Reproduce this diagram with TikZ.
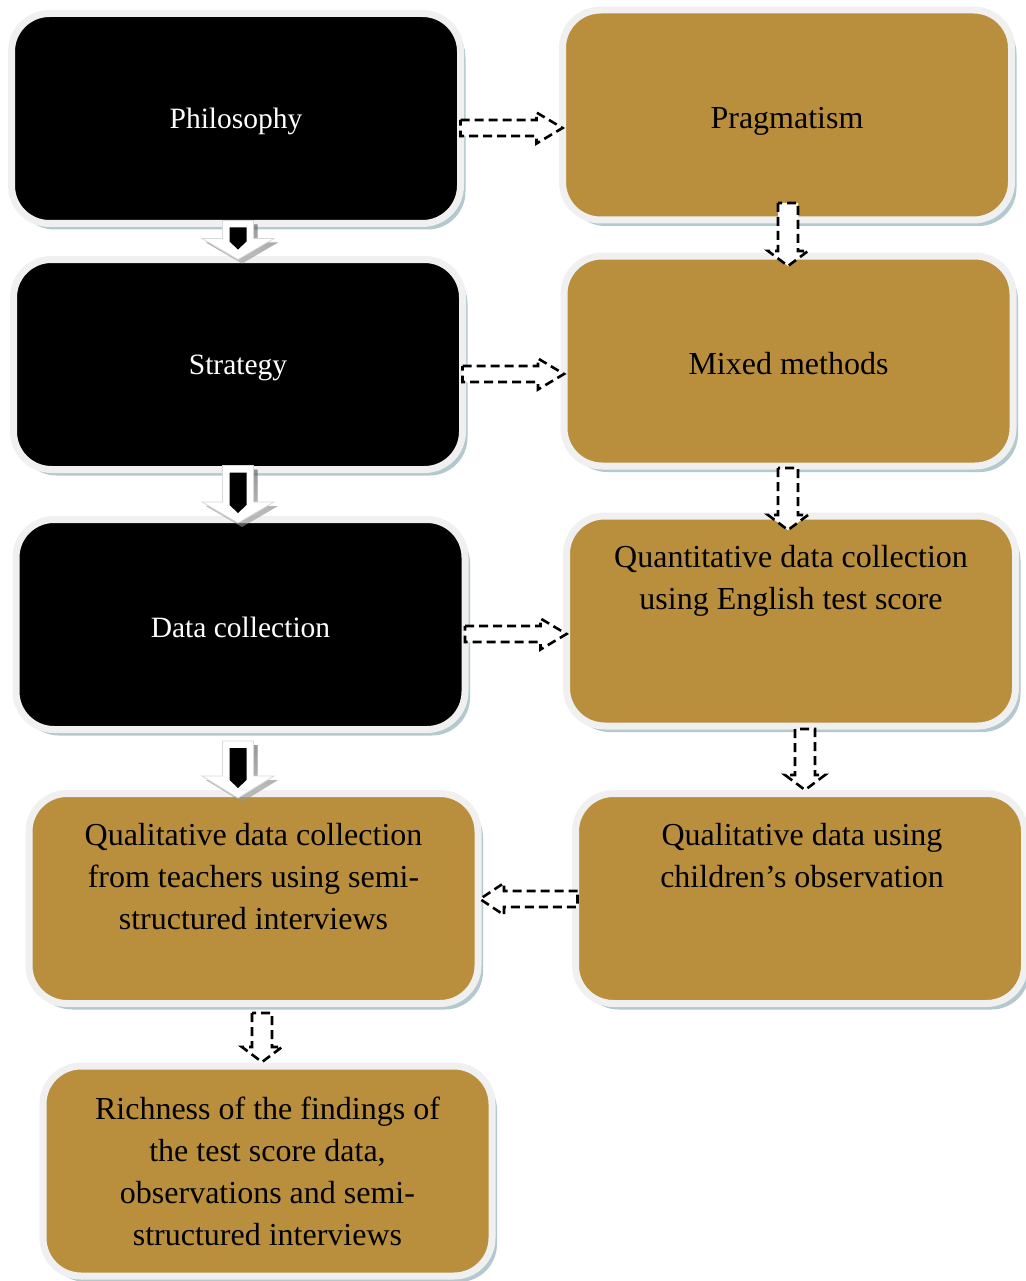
\documentclass[tikz,border=0pt]{standalone}
\usepackage{fontspec}
\setmainfont{Liberation Serif}
\usetikzlibrary{calc,shadows}
\definecolor{gold}{RGB}{185,143,62}
\definecolor{rim}{RGB}{240,240,240}
\definecolor{shade}{RGB}{105,148,158}
\tikzset{
 box/.style={rounded corners=38pt, minimum width=449pt, minimum height=210pt, line width=7pt, draw=rim, outer sep=0pt, inner sep=0pt,
   drop shadow={shadow xshift=5pt, shadow yshift=-6pt, fill=shade, opacity=0.5}},
 darkbox/.style={box, fill=black},
 goldbox/.style={box, fill=gold},
 wtxt/.style={inner sep=0pt, text=white, font=\fontsize{29.5}{42}\selectfont},
 ctxt/.style={inner sep=0pt, font=\fontsize{32}{42}\selectfont},
 txt/.style={align=center, inner sep=0pt, font=\fontsize{32}{42}\selectfont, anchor=north},
 dashbox/.style={draw=black, fill=white, line width=2.6pt, dash pattern=on 9pt off 5pt, line join=miter},
 blkouter/.style={fill=white, draw=black!15, line width=0.8pt},
}
% dashed hollow arrow pointing right
\newcommand\dashR[2]{\draw[dashbox] let \p1=(#1), \p2=(#2) in
 ({\x1},{\y1+8pt}) -- ({\x2-26pt},{\y1+8pt}) -- ({\x2-26pt},{\y1+15.5pt}) -- ({\x2},{\y1}) --
 ({\x2-26pt},{\y1-15.5pt}) -- ({\x2-26pt},{\y1-8pt}) -- ({\x1},{\y1-8pt}) -- cycle;}
% dashed hollow arrow pointing left
\newcommand\dashL[2]{\draw[dashbox] let \p1=(#1), \p2=(#2) in
 ({\x1},{\y1+8pt}) -- ({\x2+24pt},{\y1+8pt}) -- ({\x2+24pt},{\y1+16pt}) -- ({\x2},{\y1}) --
 ({\x2+24pt},{\y1-16pt}) -- ({\x2+24pt},{\y1-8pt}) -- ({\x1},{\y1-8pt}) -- cycle;}
% dashed hollow arrow pointing down
\newcommand\dashD[2]{\draw[dashbox] let \p1=(#1), \p2=(#2) in
 ({\x1-10pt},{\y1}) -- ({\x1-10pt},{\y2+15pt}) -- ({\x1-20pt},{\y2+15pt}) -- ({\x1},{\y2}) --
 ({\x1+20pt},{\y2+15pt}) -- ({\x1+10pt},{\y2+15pt}) -- ({\x1+10pt},{\y1}) -- cycle;}
% solid black block arrow pointing down, white rim
\newcommand\blkD[3]{%
 \fill[shade, opacity=0.35] let \p1=(#1), \p2=(#2) in
 ({\x1-15.5pt+4pt},{\y1-4pt}) -- ({\x1-15.5pt+4pt},{\y2+#3pt-4pt}) -- ({\x1-36pt+4pt},{\y2+#3pt-4pt}) -- ({\x1+4pt},{\y2-4pt}) --
 ({\x1+36pt+4pt},{\y2+#3pt-4pt}) -- ({\x1+15.5pt+4pt},{\y2+#3pt-4pt}) -- ({\x1+15.5pt+4pt},{\y1-4pt}) -- cycle;
 \draw[blkouter] let \p1=(#1), \p2=(#2) in
 ({\x1-15.5pt},{\y1}) -- ({\x1-15.5pt},{\y2+#3pt}) -- ({\x1-36pt},{\y2+#3pt}) -- ({\x1},{\y2}) --
 ({\x1+36pt},{\y2+#3pt}) -- ({\x1+15.5pt},{\y2+#3pt}) -- ({\x1+15.5pt},{\y1}) -- cycle;
 \fill[black] let \p1=(#1), \p2=(#2) in
 ({\x1-8.5pt},{\y1-7pt}) -- ({\x1-8.5pt},{\y2+18pt}) -- ({\x1},{\y2+10pt}) --
 ({\x1+8.5pt},{\y2+18pt}) -- ({\x1+8.5pt},{\y1-7pt}) -- cycle;}

\begin{document}
\begin{tikzpicture}[x=1pt,y=-1pt]
\useasboundingbox[fill=white] (0,0) rectangle (1025,1281);

% boxes
\node[darkbox] (phil)  at (236,118.5) {};
\node[goldbox] (prag)  at (787,115)   {};
\node[darkbox] (strat) at (238,364.5) {};
\node[goldbox] (mixed) at (788.5,361) {};
\node[darkbox] (data)  at (240.5,624.5) {};
\node[goldbox] (quant) at (791,621) {};
\node[goldbox] (qualT) at (253.5,898.5) {};
\node[goldbox] (qualC) at (800,898.5) {};
\node[goldbox] (rich)  at (267.5,1171) {};

% texts
\node[wtxt] (philT)  at ($(phil.center)+(0,3)$)  {Philosophy};
\node[wtxt] (stratT) at ($(strat.center)+(0,3)$) {Strategy};
\node[wtxt] (dataT)  at ($(data.center)+(0,3)$)  {Data collection};
\node[ctxt] (pragT)  at ($(prag.center)+(0,6)$)  {Pragmatism};
\node[ctxt] (mixedT) at ($(mixed.center)+(0,3)$) {Mixed methods};
\node[txt] (quantT) at ($(quant.north)+(0,29.5)$) {Quantitative data collection\\using English test score};
\node[txt] (qualTT) at ($(qualT.north)+(0,30)$) {Qualitative data collection\\from teachers using semi-\\structured interviews};
\node[txt] (qualCT) at ($(qualC.north)+(2,30)$) {Qualitative data using\\children’s observation};
\node[txt] (richT)  at ($(rich.north)+(0,30.5)$) {Richness of the findings of\\the test score data,\\observations and semi-\\structured interviews};

% dashed horizontal connectors
\coordinate (r1s) at (phil.east |- 0,128);
\coordinate (r1e) at (prag.west |- 0,128);
\dashR{r1s}{r1e}
\coordinate (r2s) at (strat.east |- 0,374);
\coordinate (r2e) at (mixed.west |- 0,374);
\dashR{r2s}{r2e}
\coordinate (r3s) at (data.east |- 0,634);
\coordinate (r3e) at (quant.west |- 0,634);
\dashR{r3s}{r3e}
\coordinate (l1s) at ($(qualC.west |- 0,899)+(2,0)$);
\coordinate (l1e) at ($(qualT.east |- 0,899)+(2,0)$);
\dashL{l1s}{l1e}

% dashed vertical connectors
\coordinate (d1s) at ($(788,0 |- prag.south)+(0,-17)$);
\coordinate (d1e) at ($(788,0 |- mixed.north)+(0,10)$);
\dashD{d1s}{d1e}
\coordinate (d2s) at ($(788,0 |- mixed.south)+(0,2)$);
\coordinate (d2e) at ($(788,0 |- quant.north)+(0,14)$);
\dashD{d2s}{d2e}
\coordinate (d3s) at ($(805,0 |- quant.south)+(0,3)$);
\coordinate (d3e) at ($(805,0 |- qualC.north)+(0,-3.5)$);
\dashD{d3s}{d3e}
\coordinate (d4s) at ($(262,0 |- qualT.south)+(0,9.5)$);
\coordinate (d4e) at ($(262,0 |- rich.north)+(0,-4)$);
\dashD{d4s}{d4e}

% solid block connectors
\coordinate (b1s) at ($(238,0 |- phil.south)+(0,-3)$);
\coordinate (b1e) at ($(238,0 |- strat.north)+(0,0)$);
\blkD{b1s}{b1e}{21}
\coordinate (b2s) at ($(238,0 |- strat.south)+(0,-4)$);
\coordinate (b2e) at ($(238,0 |- data.north)+(0,3.5)$);
\blkD{b2s}{b2e}{21}
\coordinate (b3s) at ($(238,0 |- data.south)+(0,11.5)$);
\coordinate (b3e) at ($(238,0 |- qualT.north)+(0,4.5)$);
\blkD{b3s}{b3e}{22}
\end{tikzpicture}
\end{document}
